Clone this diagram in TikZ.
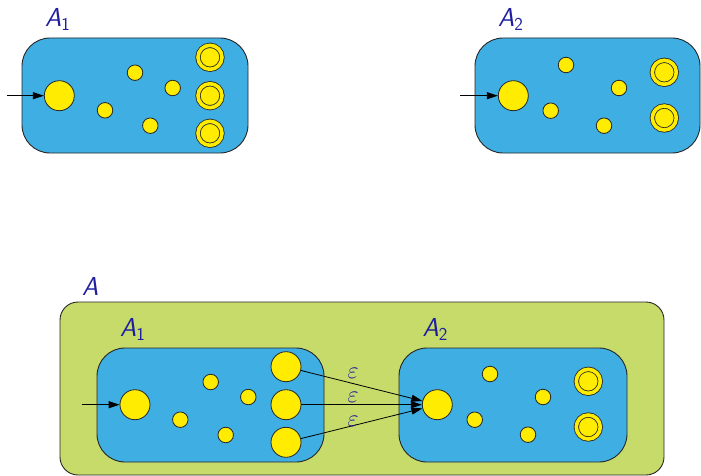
\RequirePackage{fix-cm}
\documentclass[tikz,border=0pt]{standalone}
\usepackage{amsmath}
\usepackage{fontspec}
\usepackage{xcolor}
\usepackage{tikz}
\usetikzlibrary{arrows.meta,positioning}
\definecolor{autblue}{HTML}{3FAEE2}
\definecolor{outgreen}{HTML}{C6DB6A}
\definecolor{stateyellow}{HTML}{FFEC00}
\definecolor{labelblue}{HTML}{1E1E9E}
\newcommand{\autname}[1]{{\sffamily\slshape A}{\sffamily\textsubscript{#1}}}
\tikzset{
  autbox/.style={draw=black!85,line width=0.9pt,fill=autblue,rounded corners=28pt,inner sep=0pt},
  outbox/.style={draw=black!85,line width=0.9pt,fill=outgreen,rounded corners=18pt,inner sep=0pt},
  bigst/.style={circle,draw=black!85,line width=0.8pt,fill=stateyellow,minimum size=30pt,inner sep=0pt},
  smst/.style={circle,draw=black!85,line width=0.8pt,fill=stateyellow,minimum size=15.5pt,inner sep=0pt},
  accst/.style={circle,draw=black!85,line width=0.8pt,fill=stateyellow,double=stateyellow,
    double distance=3.6pt,minimum size=24pt,inner sep=0pt},
  autlbl/.style={text=labelblue,font=\fontsize{26}{30}\selectfont,anchor=base west,inner sep=0pt},
  epslbl/.style={text=labelblue,font=\fontsize{24}{26}\selectfont,above,inner sep=0.5pt,pos=0.43},
  trans/.style={-{Triangle[length=11pt,width=7pt]},line width=0.8pt}
}

\begin{document}
\begin{tikzpicture}[x=1pt,y=-1pt]
  \useasboundingbox (0,0) rectangle (701,476);
  % first automaton
  \node[autbox,minimum width=226pt,minimum height=115pt] (boxA) at (135,95.5) {};
  \node[autlbl] (labA) at (45,27) {\autname{1}};
  \node[bigst] (pA) at (59.3,95.7) {};
  \node[smst] (pA1) at (135,72.7) {};
  \node[smst] (pA2) at (172.7,88) {};
  \node[smst] (pA3) at (105,110.3) {};
  \node[smst] (pA4) at (150.3,125.7) {};
  \node[accst] (fA1) at (210,57.3) {};
  \node[accst] (fA2) at (210,95.7) {};
  \node[accst] (fA3) at (210,133.3) {};
  \coordinate (inA) at (7,95.7);
  \draw[trans] (inA) -- (pA);

  % second automaton
  \node[autbox,minimum width=225pt,minimum height=115pt] (boxB) at (587.5,95.5) {};
  \node[autlbl] (labB) at (498,27) {\autname{2}};
  \node[bigst] (pB) at (513.3,95.7) {};
  \node[smst] (pB1) at (566,65) {};
  \node[smst] (pB2) at (619,88) {};
  \node[smst] (pB3) at (550.7,110.7) {};
  \node[smst] (pB4) at (604,125.7) {};
  \node[accst] (fB1) at (664.3,72.3) {};
  \node[accst] (fB2) at (664.3,118) {};
  \coordinate (inB) at (460,95.7);
  \draw[trans] (inB) -- (pB);

  % concatenation
  \node[outbox,minimum width=604pt,minimum height=173pt] (boxC) at (362,388.5) {};
  \node[autlbl] (labC) at (82,295) {\sffamily\slshape A};
  \node[autbox,minimum width=227pt,minimum height=114pt] (boxCA) at (210.5,405) {};
  \node[autlbl] (labCA) at (120,336.7) {\autname{1}};
  \node[autbox,minimum width=228pt,minimum height=114pt] (boxCB) at (513,405) {};
  \node[autlbl] (labCB) at (422.5,336.7) {\autname{2}};

  \node[bigst] (qA) at (135,404.7) {};
  \node[smst] (qA1) at (210.7,382) {};
  \node[smst] (qA2) at (248.3,397) {};
  \node[smst] (qA3) at (180.3,419.7) {};
  \node[smst] (qA4) at (225.7,435) {};
  \node[bigst] (gA1) at (286,366.7) {};
  \node[bigst] (gA2) at (286,404.7) {};
  \node[bigst] (gA3) at (286,442.3) {};
  \coordinate (inC) at (81.7,404.7);
  \draw[trans] (inC) -- (qA);

  \node[bigst] (qB) at (437.3,404.7) {};
  \node[smst] (qB1) at (490,374) {};
  \node[smst] (qB2) at (543,397) {};
  \node[smst] (qB3) at (474.7,419.7) {};
  \node[smst] (qB4) at (528,434.7) {};
  \node[accst] (hB1) at (588.3,381.3) {};
  \node[accst] (hB2) at (588.3,427) {};

  \draw[trans] (gA1) -- node[epslbl,yshift=4pt] {$\varepsilon$} (qB);
  \draw[trans] (gA2) -- node[epslbl,yshift=1.5pt] {$\varepsilon$} (qB);
  \draw[trans] (gA3) -- node[epslbl,yshift=-2pt] {$\varepsilon$} (qB);
\end{tikzpicture}
\end{document}
